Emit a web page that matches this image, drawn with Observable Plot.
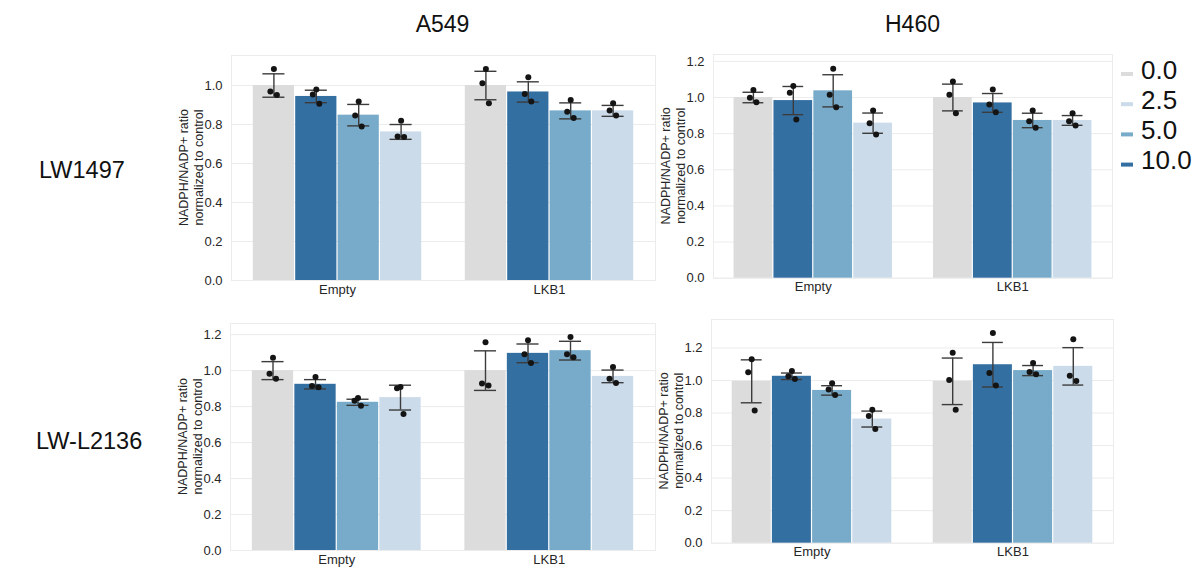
<!DOCTYPE html>
<html><head><meta charset="utf-8">
<script src="https://cdn.jsdelivr.net/npm/d3@7"></script>
<script src="https://cdn.jsdelivr.net/npm/@observablehq/plot@0.6"></script>
<style>
body{margin:0;background:#fff;font-family:"Liberation Sans",Arial,sans-serif;}
#root{position:relative;width:1197px;height:571px;overflow:hidden;background:#fff;}
.layer{position:absolute;}
</style></head><body><div id="root"></div>
<script>
// ---------------- data ----------------
const groups = ["Empty", "LKB1"];
const doses = ["0.0", "10.0", "5.0", "2.5"];          // bar order within each group
const legendDoses = ["0.0", "2.5", "5.0", "10.0"];    // legend order
const cellLines = ["A549", "H460"];
const strains = ["LW1497", "LW-L2136"];
const yLabelLines = ["NADPH/NADP+ ratio", "normalized to control"];
const ticksTop = [0, 0.2, 0.4, 0.6, 0.8, 1.0];
const ticksFull = [0, 0.2, 0.4, 0.6, 0.8, 1.0, 1.2];

// order: Empty[0.0,10.0,5.0,2.5], LKB1[0.0,10.0,5.0,2.5]
const a549_LW1497_mean = [1.000, 0.944, 0.848, 0.762, 1.000, 0.967, 0.870, 0.870];
const a549_LW1497_err  = [0.060, 0.032, 0.055, 0.038, 0.073, 0.052, 0.041, 0.028];
const a549_LW1497_pts  = [[1.085,0.970,0.952],[0.979,0.954,0.906],[0.918,0.846,0.790],[0.819,0.738,0.736],
                          [1.085,1.012,0.909],[1.043,0.957,0.918],[0.926,0.865,0.833],[0.909,0.872,0.846]];

const h460_LW1497_mean = [1.000, 0.983, 1.037, 0.858, 1.000, 0.970, 0.873, 0.873];
const h460_LW1497_err  = [0.029, 0.078, 0.089, 0.056, 0.074, 0.052, 0.040, 0.027];
const h460_LW1497_pts  = [[1.042,0.998,0.974],[1.063,1.026,0.878],[1.159,1.015,0.946],[0.928,0.858,0.795],
                          [1.089,1.015,0.913],[1.044,0.961,0.919],[0.928,0.869,0.832],[0.913,0.869,0.845]];

const a549_LWL2136_mean = [1.000, 0.924, 0.824, 0.850, 1.000, 1.096, 1.111, 0.968];
const a549_LWL2136_err  = [0.050, 0.026, 0.017, 0.069, 0.110, 0.052, 0.052, 0.035];
const a549_LWL2136_pts  = [[1.072,0.983,0.955],[0.965,0.915,0.907],[0.848,0.833,0.805],[0.909,0.902,0.759],
                           [1.158,0.929,0.918],[1.169,1.091,1.043],[1.187,1.091,1.074],[1.020,0.955,0.931]];

const h460_LWL2136_mean = [0.995, 1.026, 0.939, 0.763, 0.995, 1.097, 1.061, 1.087];
const h460_LWL2136_err  = [0.132, 0.020, 0.029, 0.049, 0.143, 0.137, 0.031, 0.115];
const h460_LWL2136_pts  = [[1.130,1.050,0.816],[1.058,1.026,1.009],[0.983,0.944,0.911],[0.821,0.782,0.702],
                           [1.171,1.003,0.821],[1.292,1.046,0.970],[1.108,1.052,1.038],[1.253,1.030,0.997]];

// ---------------- styles / layout ----------------
const FONT = '"Liberation Sans", Arial, sans-serif';
const doseColors = {"0.0": "#dcdcdc", "2.5": "#cbdbea", "5.0": "#78abc9", "10.0": "#346fa2"};
const GRID = "#ececec";
const TEXT = "#262626";
const jitterDx = [0, -3.5, 3];   // small horizontal spread of replicate dots (style only)

const panels = [
  {mean: a549_LW1497_mean, err: a549_LW1497_err, pts: a549_LW1497_pts, ticks: ticksTop,
   box: {left: 230.5, right: 654.5, top: 55, bottom: 280}, ymax: 1.154},
  {mean: h460_LW1497_mean, err: h460_LW1497_err, pts: h460_LW1497_pts, ticks: ticksFull,
   box: {left: 713, right: 1112, top: 54, bottom: 277.7}, ymax: 1.238},
  {mean: a549_LWL2136_mean, err: a549_LWL2136_err, pts: a549_LWL2136_pts, ticks: ticksFull,
   box: {left: 230, right: 655, top: 323, bottom: 550}, ymax: 1.262},
  {mean: h460_LWL2136_mean, err: h460_LWL2136_err, pts: h460_LWL2136_pts, ticks: ticksFull,
   box: {left: 711, right: 1113, top: 319, bottom: 542.7}, ymax: 1.375}
];

const root = document.getElementById("root");
const ML = 60, MR = 6, MT = 10, MB = 30;

function place(el, left, top) {
  el.classList.add("layer");
  el.style.left = left + "px";
  el.style.top = top + "px";
  root.appendChild(el);
}

panels.forEach(p => {
  const rows = [];
  const pts = [];
  groups.forEach((g, gi) => doses.forEach((d, di) => {
    const k = gi * doses.length + di;
    rows.push({group: g, dose: d, mean: p.mean[k], lo: p.mean[k] - p.err[k], hi: p.mean[k] + p.err[k]});
    p.pts[k].forEach((v, ri) => pts.push({group: g, dose: d, value: v, rep: ri}));
  }));
  const b = p.box;
  const W = (b.right - b.left) + ML + MR;
  const H = (b.bottom - b.top) + MT + MB;
  const common = {width: W, height: H, marginLeft: ML, marginRight: MR, marginTop: MT, marginBottom: MB,
    style: {fontFamily: FONT, fontSize: "13px", color: TEXT, background: "transparent", overflow: "visible"}};

  // background: grid, frame, y axis
  const bg = Plot.plot({
    ...common,
    x: {domain: [0, 1], axis: null},
    y: {domain: [0, p.ymax], axis: null},
    marks: [
      Plot.ruleY(p.ticks, {stroke: GRID, strokeWidth: 1}),
      Plot.frame({stroke: GRID, strokeWidth: 1}),
      Plot.axisY(p.ticks, {tickSize: 0, tickPadding: 9, tickFormat: d => d.toFixed(1), label: null, fill: TEXT, fontSize: 13})
    ]
  });
  place(bg, b.left - ML, b.top - MT);

  // foreground: bars, error bars, points
  const bandW = (b.right - b.left) / 2 * 0.8 / doses.length;
  const capInset = bandW * 0.24;
  const fg = Plot.plot({
    ...common,
    fx: {domain: groups, paddingInner: 0.2, paddingOuter: 0.1, round: false, label: null},
    x: {domain: doses, padding: 0, round: false, axis: null},
    y: {domain: [0, p.ymax], axis: null},
    color: {domain: Object.keys(doseColors), range: Object.values(doseColors)},
    marks: [
      Plot.axisFx({anchor: "bottom", tickSize: 0, tickPadding: 4, label: null, fontSize: 13, fill: TEXT}),
      Plot.barY(rows, {fx: "group", x: "dose", y: "mean", fill: "dose", insetLeft: 0.6, insetRight: 0.6}),
      Plot.ruleX(rows, {fx: "group", x: "dose", y1: "lo", y2: "hi", stroke: "#3c3c3c", strokeWidth: 1.4}),
      Plot.tickY(rows, {fx: "group", x: "dose", y: "lo", stroke: "#3c3c3c", strokeWidth: 1.4, insetLeft: capInset, insetRight: capInset}),
      Plot.tickY(rows, {fx: "group", x: "dose", y: "hi", stroke: "#3c3c3c", strokeWidth: 1.4, insetLeft: capInset, insetRight: capInset}),
      ...jitterDx.map((dx, ri) =>
        Plot.dot(pts.filter(q => q.rep === ri), {fx: "group", x: "dose", y: "value", r: 3, dx, fill: "#141414", stroke: "none"}))
    ]
  });
  place(fg, b.left - ML, b.top - MT);
});

// ---------------- annotations (titles, row labels, y labels, legend) ----------------
const NS = "http://www.w3.org/2000/svg";
const ann = document.createElementNS(NS, "svg");
ann.setAttribute("width", 1197);
ann.setAttribute("height", 571);
ann.style.position = "absolute";
ann.style.left = "0px";
ann.style.top = "0px";
ann.style.fontFamily = FONT;
root.appendChild(ann);

function txt(str, x, y, size, anchor, fill, rotate) {
  const t = document.createElementNS(NS, "text");
  t.textContent = str;
  t.setAttribute("x", x);
  t.setAttribute("y", y);
  t.setAttribute("font-size", size);
  t.setAttribute("text-anchor", anchor);
  t.setAttribute("fill", fill);
  if (rotate) t.setAttribute("transform", `rotate(-90 ${x} ${y})`);
  ann.appendChild(t);
  return t;
}

// column titles
txt(cellLines[0], (panels[0].box.left + panels[0].box.right) / 2, 32, 23, "middle", "#111");
txt(cellLines[1], (panels[1].box.left + panels[1].box.right) / 2, 32, 23, "middle", "#111");
// row labels
txt(strains[0], 39, 178, 23.5, "start", "#111");
txt(strains[1], 36, 449, 23.5, "start", "#111");
// y labels
panels.forEach(p => {
  const b = p.box;
  const cy = (b.top + b.bottom) / 2;
  txt(yLabelLines[0], b.left - 43, cy, 12.5, "middle", TEXT, true);
  txt(yLabelLines[1], b.left - 28, cy, 12.5, "middle", TEXT, true);
});
// legend
legendDoses.forEach((d, i) => {
  const base = 78.5 + i * 30.2;
  const r = document.createElementNS(NS, "rect");
  r.setAttribute("x", 1121);
  r.setAttribute("y", base - 6.5);
  r.setAttribute("width", 12);
  r.setAttribute("height", 4);
  r.setAttribute("fill", doseColors[d]);
  ann.appendChild(r);
  txt(d, 1141, base, 26, "start", "#111");
});
</script>
</body></html>
